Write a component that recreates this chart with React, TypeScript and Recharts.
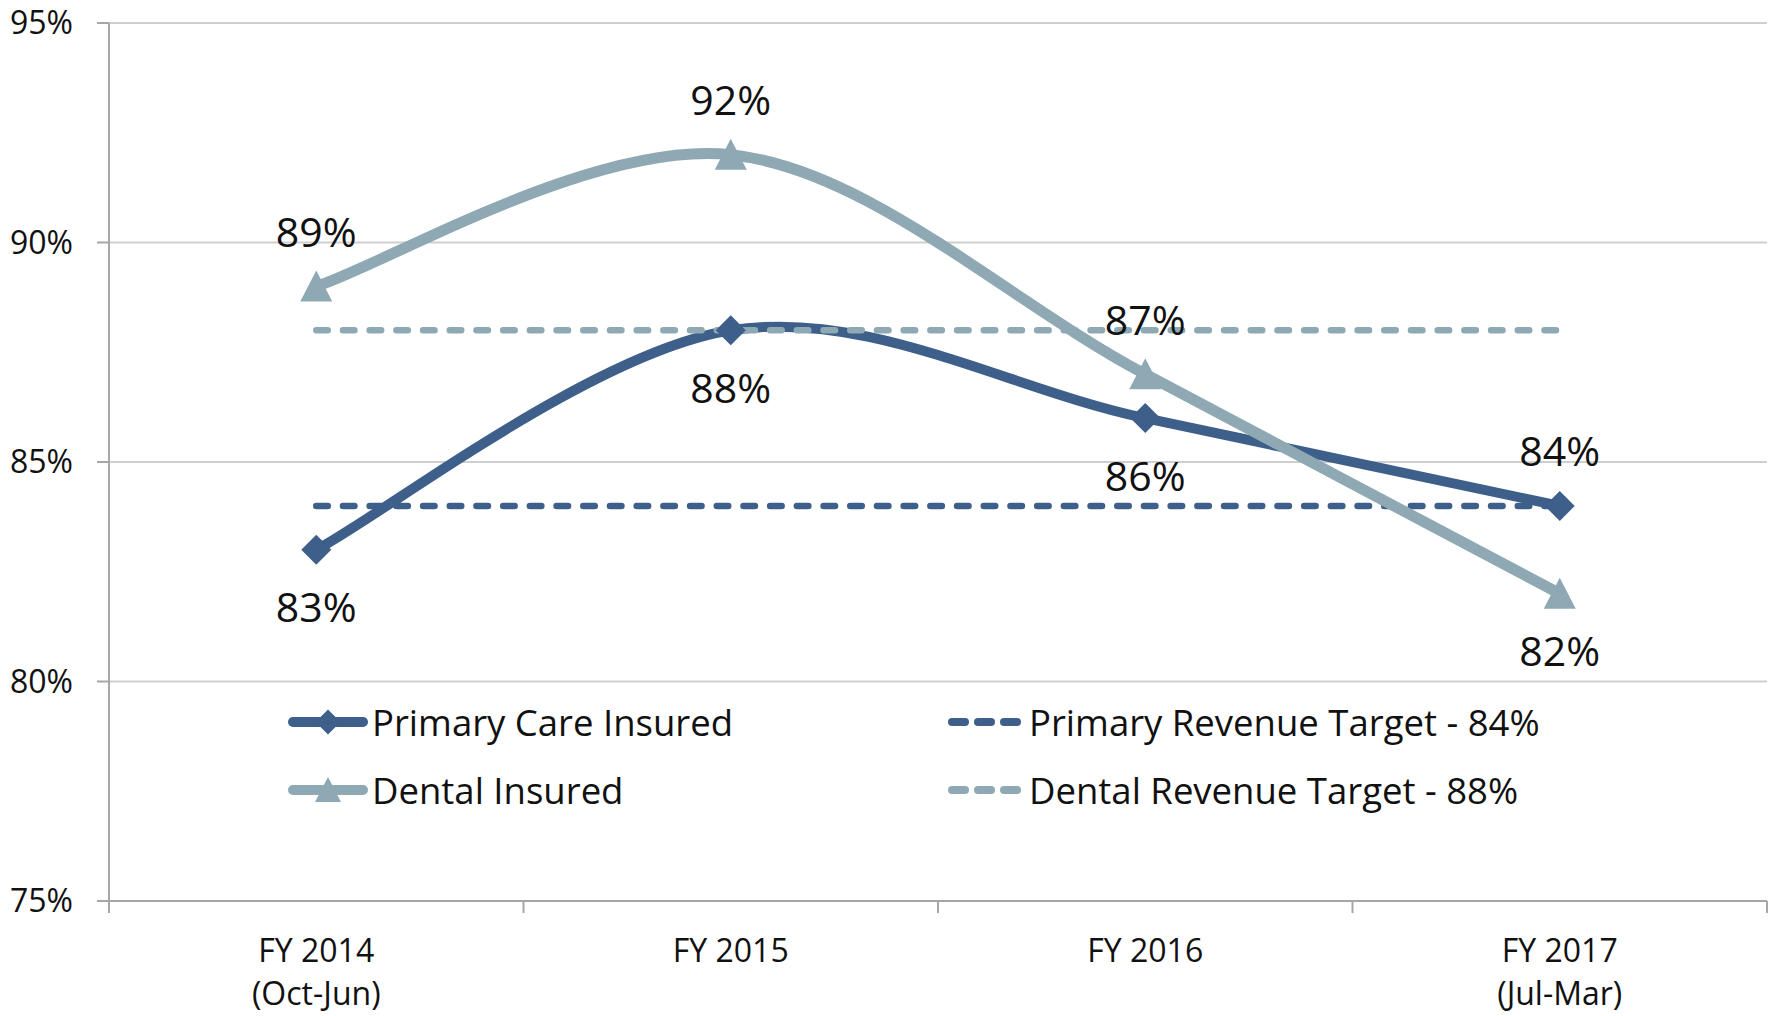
import { LineChart, Line, XAxis, YAxis, CartesianGrid, Legend, LabelList } from "recharts";

document.body.style.margin = "0";

// categories (multi-line labels) and series values
const categories = [["FY 2014", "(Oct-Jun)"], ["FY 2015"], ["FY 2016"], ["FY 2017", "(Jul-Mar)"]];
const primaryInsured = [83, 88, 86, 84];
const dentalInsured = [89, 92, 87, 82];
const primaryTarget = [84, 84, 84, 84];
const dentalTarget = [88, 88, 88, 88];
const yTicks = [75, 80, 85, 90, 95];
const xTicks = [0, 0.5, 1, 1.5, 2, 2.5, 3, 3.5, 4];

// where each data label sits relative to its point
const primaryLabelSide = ["below", "below", "below", "above"];
const dentalLabelSide = ["above", "above", "above", "below"];

const PRIMARY = "#3d5f8a";
const DENTAL = "#8ea9b3";
const AXIS = "#a6a6a6";
const GRID = "#cfcfcf";
const TEXT = "#111";
const FONT = "'Open Sans', sans-serif";

const data = categories.map((c, i) => ({
  x: i + 0.5,
  primary: primaryInsured[i],
  dental: dentalInsured[i],
  primaryTarget: primaryTarget[i],
  dentalTarget: dentalTarget[i],
}));

// Excel-like smoothed line (Catmull-Rom as cubic beziers)
function excelSmooth(context: any) {
  let pts: number[][] = [];
  return {
    areaStart() {},
    areaEnd() {},
    lineStart() {
      pts = [];
    },
    point(x: number, y: number) {
      pts.push([+x, +y]);
    },
    lineEnd() {
      const n = pts.length;
      if (!n) return;
      context.moveTo(pts[0][0], pts[0][1]);
      for (let i = 0; i < n - 1; i++) {
        const p0 = pts[i - 1] || pts[i];
        const p1 = pts[i];
        const p2 = pts[i + 1];
        const p3 = pts[i + 2] || pts[i + 1];
        context.bezierCurveTo(
          p1[0] + (p2[0] - p0[0]) / 6,
          p1[1] + (p2[1] - p0[1]) / 6,
          p2[0] - (p3[0] - p1[0]) / 6,
          p2[1] - (p3[1] - p1[1]) / 6,
          p2[0],
          p2[1]
        );
      }
    },
  };
}

const Diamond = ({ cx, cy, index }: any) => (
  <path key={`d${index}`} d={`M${cx},${cy - 15}L${cx + 15},${cy}L${cx},${cy + 15}L${cx - 15},${cy}Z`} fill={PRIMARY} />
);

const Triangle = ({ cx, cy, index }: any) => (
  <path key={`t${index}`} d={`M${cx},${cy - 16}L${cx + 16},${cy + 15}L${cx - 16},${cy + 15}Z`} fill={DENTAL} />
);

const makeLabel = (sides: string[]) => (props: any) => {
  const { x, y, value, index } = props;
  const above = sides[index] === "above";
  return (
    <text x={x} y={above ? y - 54 : y + 58} dy="0.355em" textAnchor="middle" fontSize={41} fill={TEXT}>
      {value}%
    </text>
  );
};

const XTick = ({ x, y, payload }: any) => {
  const v = payload.value;
  if (Number.isInteger(v)) {
    return <line x1={x} x2={x} y1={y} y2={y + 12} stroke={AXIS} strokeWidth={2} />;
  }
  const lines = categories[Math.floor(v)];
  return (
    <text x={x} y={y} textAnchor="middle" fontSize={32} fill={TEXT}>
      {lines.map((l, i) => (
        <tspan key={l} x={x} dy={i === 0 ? 61 : 43}>
          {l}
        </tspan>
      ))}
    </text>
  );
};

const legendItems = [
  { name: "Primary Care Insured", color: PRIMARY, kind: "diamond", left: 288, top: 722 },
  { name: "Dental Insured", color: DENTAL, kind: "triangle", left: 288, top: 790 },
  { name: "Primary Revenue Target - 84%", color: PRIMARY, kind: "dash", left: 948, top: 722 },
  { name: "Dental Revenue Target - 88%", color: DENTAL, kind: "dash", left: 948, top: 790 },
];

const LegendIcon = ({ kind, color }: { kind: string; color: string }) => {
  if (kind === "dash") {
    return (
      <svg width={81} height={50}>
        {[0, 26, 52].map((s) => (
          <line key={s} x1={s + 4} x2={s + 17} y1={25} y2={25} stroke={color} strokeWidth={8} strokeLinecap="round" />
        ))}
      </svg>
    );
  }
  return (
    <svg width={84} height={50}>
      <line x1={5} x2={75} y1={25} y2={25} stroke={color} strokeWidth={10} strokeLinecap="round" />
      {kind === "diamond" ? (
        <path d="M40,12.5L52.5,25L40,37.5L27.5,25Z" fill={color} />
      ) : (
        <path d="M40,12L53,37L27,37Z" fill={color} />
      )}
    </svg>
  );
};

const renderLegend = () => (
  <div style={{ position: "relative", width: 0, height: 0 }}>
    {legendItems.map((item) => (
      <div
        key={item.name}
        style={{
          position: "absolute",
          left: item.left,
          top: item.top - 25,
          height: 50,
          display: "flex",
          alignItems: "center",
          whiteSpace: "nowrap",
          fontSize: 36.5,
          fontFamily: FONT,
          color: TEXT,
        }}
      >
        <LegendIcon kind={item.kind} color={item.color} />
        <span>{item.name}</span>
      </div>
    ))}
  </div>
);

export default function App() {
  return (
    <div style={{ width: 1777, height: 1016, background: "#fff", fontFamily: FONT }}>
      <LineChart width={1777} height={1016} data={data} margin={{ top: 23, right: 10, left: 0, bottom: 0 }}>
        <CartesianGrid horizontal vertical={false} stroke={GRID} strokeWidth={2} />
        <XAxis
          dataKey="x"
          type="number"
          domain={[0, 4]}
          ticks={xTicks}
          interval={0}
          height={115}
          tickSize={0}
          tickMargin={0}
          tickLine={false}
          axisLine={{ stroke: AXIS, strokeWidth: 2 }}
          tick={<XTick />}
        />
        <YAxis
          domain={[75, 95]}
          ticks={yTicks}
          width={109}
          tickSize={12}
          tickMargin={24}
          tickLine={{ stroke: AXIS, strokeWidth: 2 }}
          axisLine={{ stroke: AXIS, strokeWidth: 2 }}
          tick={{ fontSize: 32, fill: TEXT }}
          tickFormatter={(v) => `${v}%`}
        />
        <Legend content={renderLegend} wrapperStyle={{ left: 0, top: 0, width: 0, height: 0 }} />
        <Line
          dataKey="primaryTarget"
          stroke={PRIMARY}
          strokeWidth={6.5}
          strokeDasharray="11.5 15.2"
          strokeLinecap="round"
          dot={false}
          activeDot={false}
          isAnimationActive={false}
        />
        <Line
          dataKey="primary"
          type={excelSmooth as any}
          stroke={PRIMARY}
          strokeWidth={10}
          dot={<Diamond />}
          activeDot={false}
          isAnimationActive={false}
        >
          <LabelList dataKey="primary" content={makeLabel(primaryLabelSide)} />
        </Line>
        <Line
          dataKey="dental"
          type={excelSmooth as any}
          stroke={DENTAL}
          strokeWidth={11}
          dot={<Triangle />}
          activeDot={false}
          isAnimationActive={false}
        >
          <LabelList dataKey="dental" content={makeLabel(dentalLabelSide)} />
        </Line>
        <Line
          dataKey="dentalTarget"
          stroke={DENTAL}
          strokeWidth={6.5}
          strokeDasharray="11.5 15.2"
          strokeLinecap="round"
          dot={false}
          activeDot={false}
          isAnimationActive={false}
        />
      </LineChart>
    </div>
  );
}
